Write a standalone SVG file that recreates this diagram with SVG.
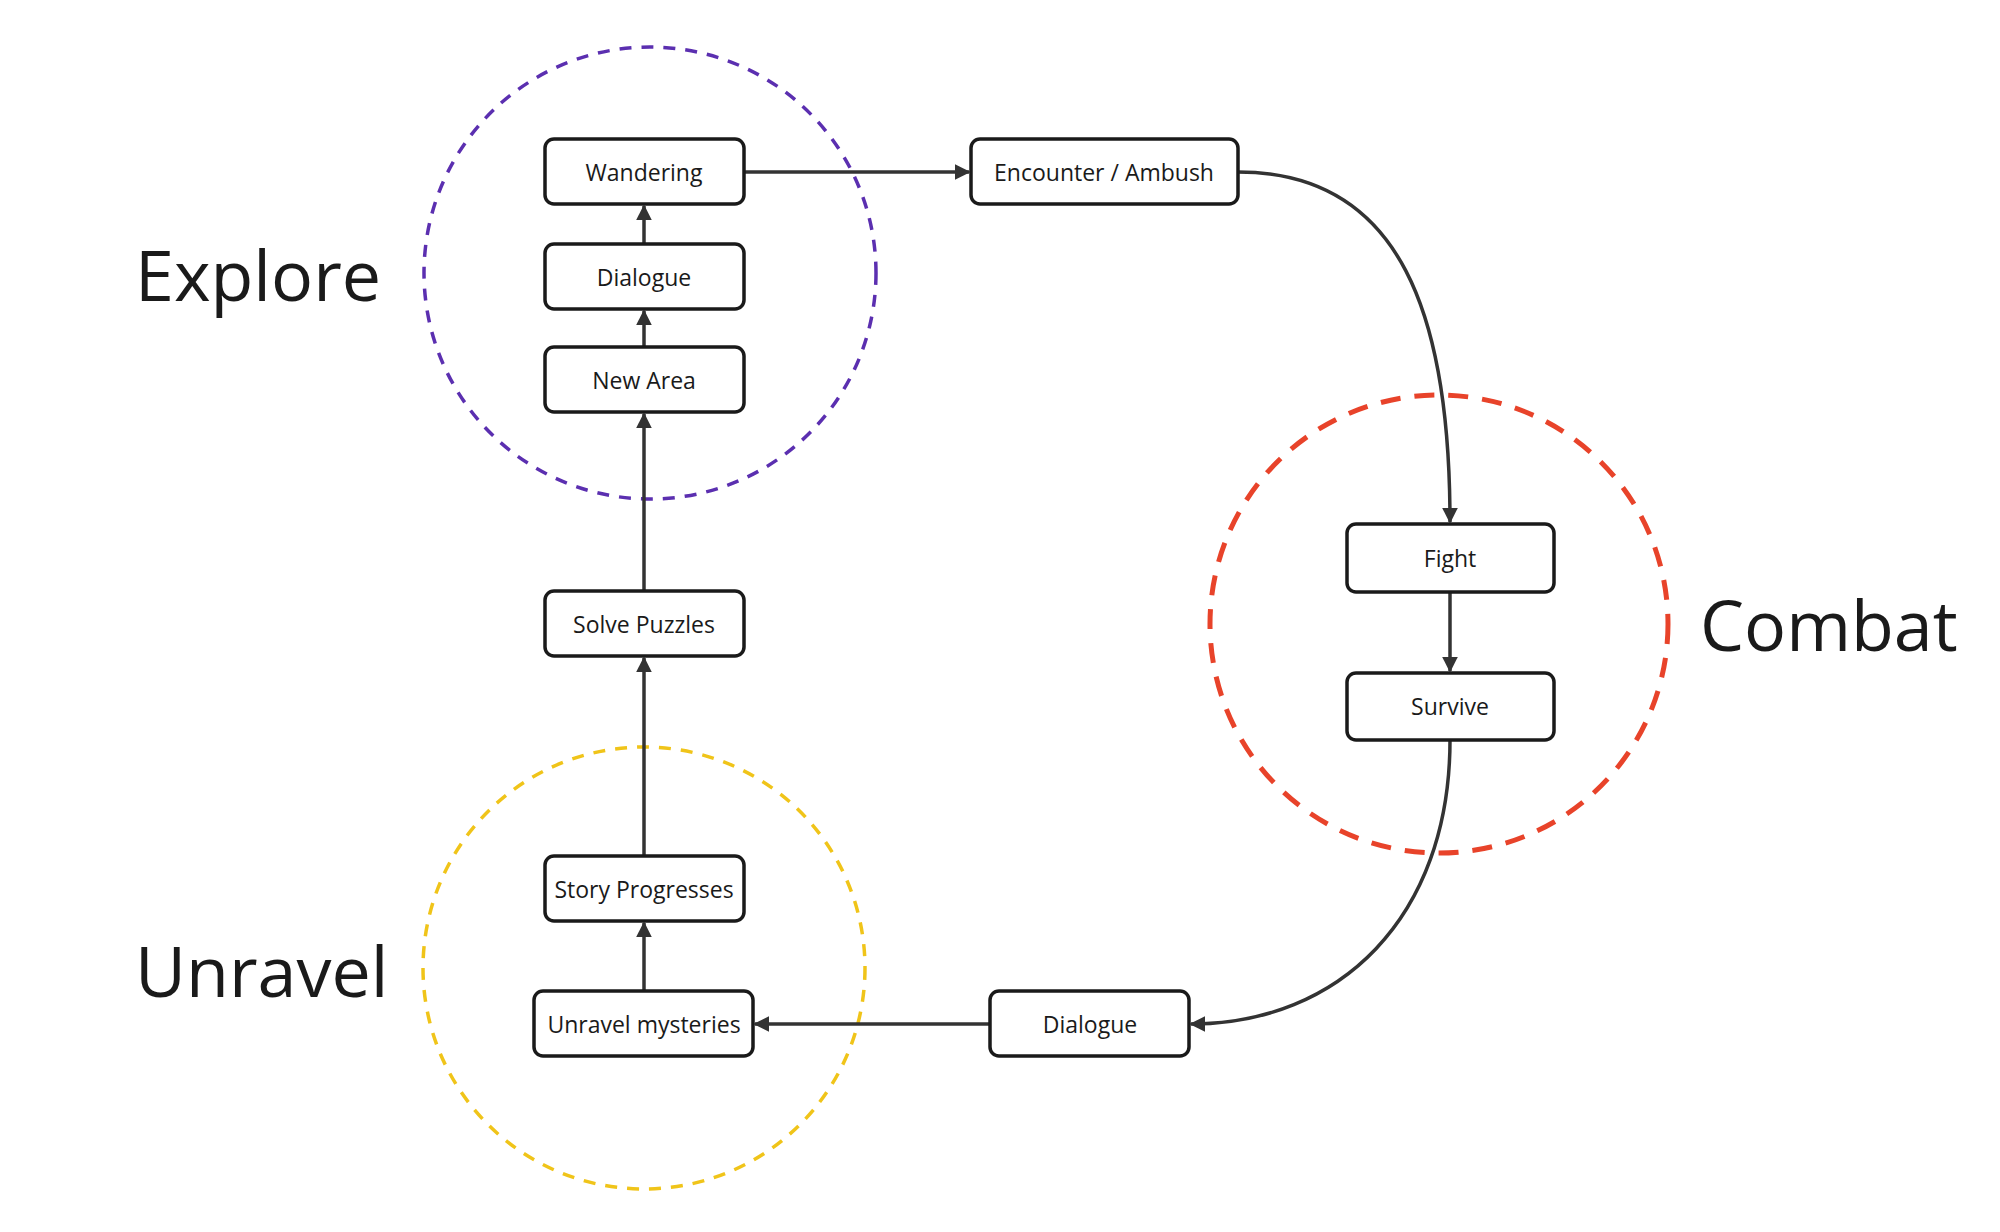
<svg xmlns="http://www.w3.org/2000/svg" width="2000" height="1232" viewBox="0 0 2000 1232">
<style>
.n{fill:#fff;stroke:#1a1a1a;stroke-width:3.5}
.t{font-family:"Open Sans",sans-serif;font-size:23px;fill:#1a1a1a;text-anchor:middle;dominant-baseline:central}
.big{font-family:"Open Sans",sans-serif;font-size:70px;fill:#1a1a1a}
.c{fill:none;stroke:#333;stroke-width:3.5}
</style>
<defs><marker id="a" viewBox="0 0 10 10" refX="9" refY="5" markerWidth="4.5" markerHeight="4.5" orient="auto"><path d="M0,0L10,5L0,10z" fill="#333"/></marker></defs>
<rect width="2000" height="1232" fill="#fff"/>
<g id="regions">
<circle cx="650" cy="273" r="226" fill="none" stroke="#5b2fb0" stroke-width="3.5" stroke-dasharray="12,10"/>
<circle cx="1439" cy="624" r="229" fill="none" stroke="#e8432a" stroke-width="5" stroke-dasharray="20,14"/>
<circle cx="644" cy="968" r="221" fill="none" stroke="#f0c419" stroke-width="3.5" stroke-dasharray="12,10"/>
<text class="big" x="135" y="301">Explore</text>
<text class="big" x="1700" y="651">Combat</text>
<text class="big" x="135" y="997">Unravel</text>
</g>
<g id="connectors" class="c" marker-end="url(#a)">
<path class="c" d="M745,172H969" marker-end="url(#a)"/>
<path class="c" d="M1238,172C1403,172 1450,319 1450,522" marker-end="url(#a)"/>
<path class="c" d="M1450,592V671" marker-end="url(#a)"/>
<path class="c" d="M1450,740C1450,918 1339,1024 1191,1024" marker-end="url(#a)"/>
<path class="c" d="M990,1024H755" marker-end="url(#a)"/>
<path class="c" d="M644,991V923" marker-end="url(#a)"/>
<path class="c" d="M644,856V658" marker-end="url(#a)"/>
<path class="c" d="M644,591V414" marker-end="url(#a)"/>
<path class="c" d="M644,347V311" marker-end="url(#a)"/>
<path class="c" d="M644,244V206" marker-end="url(#a)"/>
</g>
<g id="wandering"><rect class="n" x="545" y="139" width="199" height="65" rx="9"/><text class="t" x="644" y="172">Wandering</text></g>
<g id="dialogue1"><rect class="n" x="545" y="244" width="199" height="65" rx="9"/><text class="t" x="644" y="277">Dialogue</text></g>
<g id="newarea"><rect class="n" x="545" y="347" width="199" height="65" rx="9"/><text class="t" x="644" y="380">New Area</text></g>
<g id="solve"><rect class="n" x="545" y="591" width="199" height="65" rx="9"/><text class="t" x="644" y="624">Solve Puzzles</text></g>
<g id="story"><rect class="n" x="545" y="856" width="199" height="65" rx="9"/><text class="t" x="644" y="889">Story Progresses</text></g>
<g id="unravel"><rect class="n" x="534" y="991" width="219" height="65" rx="9"/><text class="t" x="644" y="1024">Unravel mysteries</text></g>
<g id="dialogue2"><rect class="n" x="990" y="991" width="199" height="65" rx="9"/><text class="t" x="1090" y="1024">Dialogue</text></g>
<g id="encounter"><rect class="n" x="971" y="139" width="267" height="65" rx="9"/><text class="t" x="1104" y="172">Encounter / Ambush</text></g>
<g id="fight"><rect class="n" x="1347" y="524" width="207" height="68" rx="9"/><text class="t" x="1450" y="558">Fight</text></g>
<g id="survive"><rect class="n" x="1347" y="673" width="207" height="67" rx="9"/><text class="t" x="1450" y="706">Survive</text></g>
</svg>
